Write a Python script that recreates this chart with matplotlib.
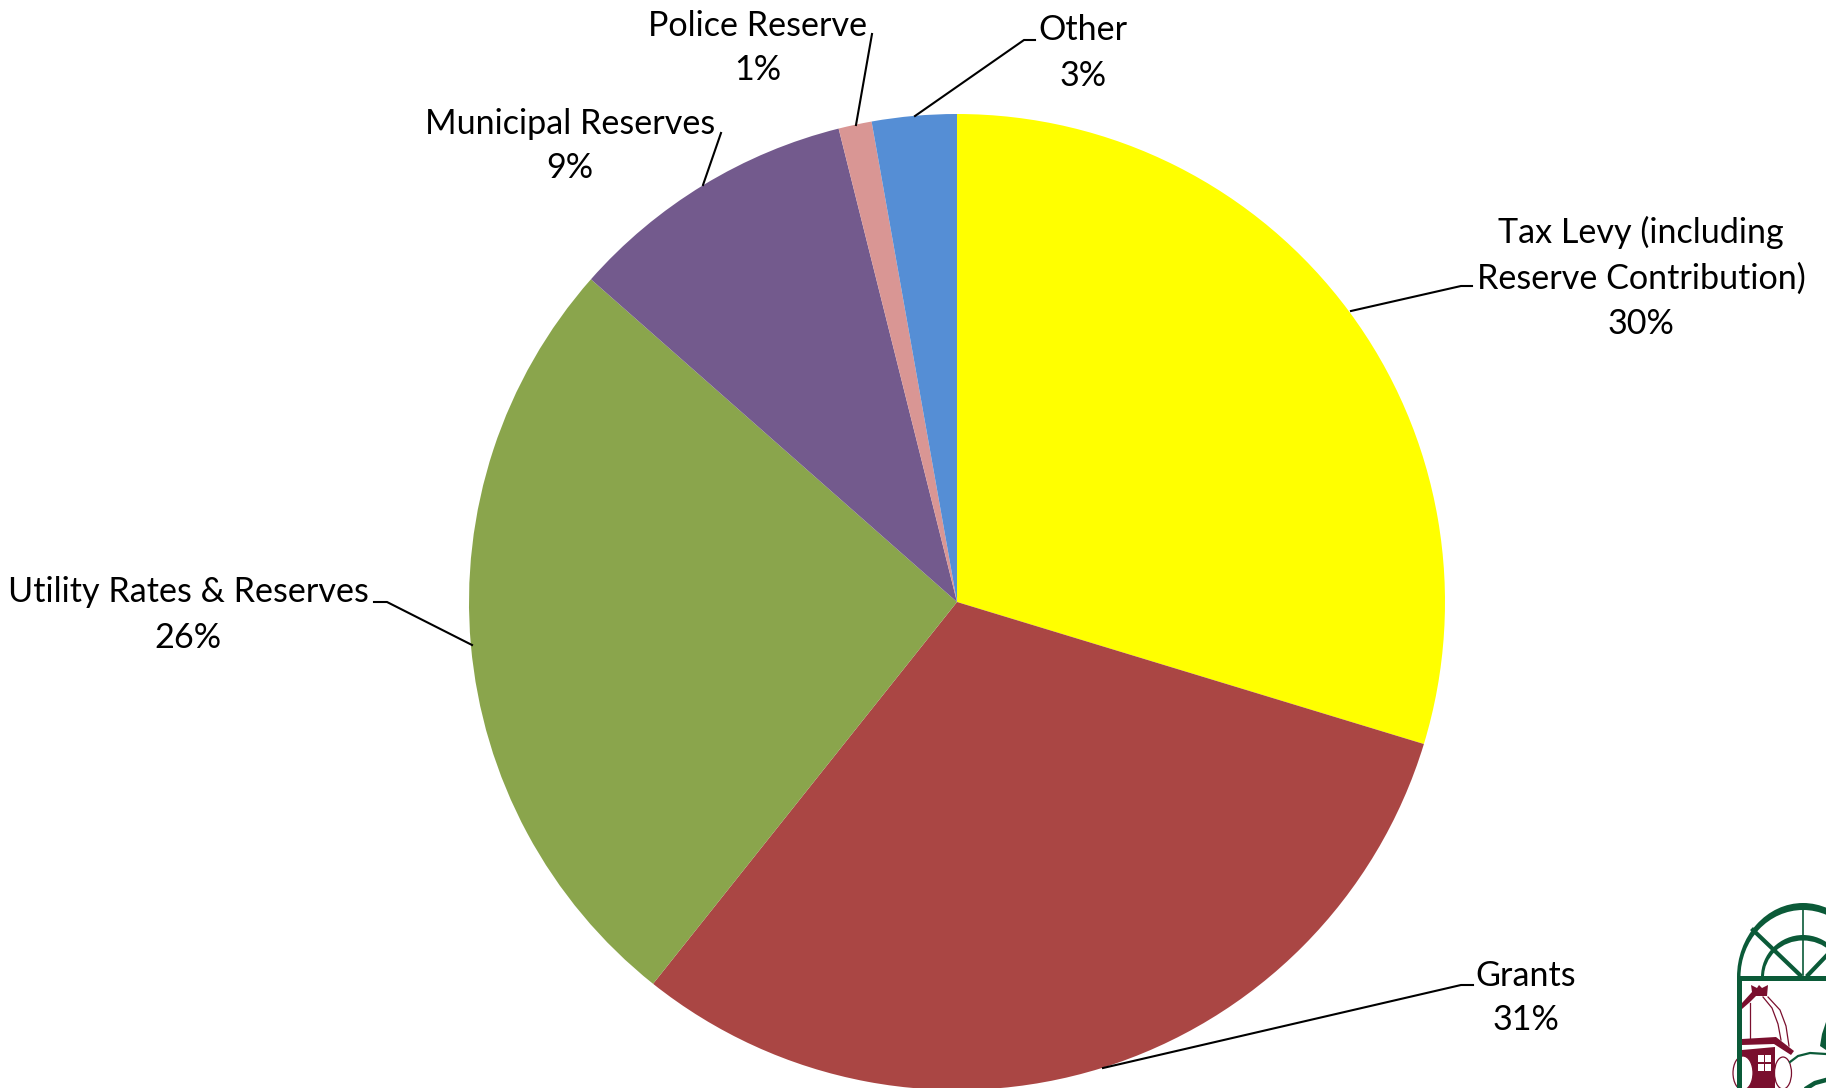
import matplotlib
matplotlib.use('Agg')
import matplotlib.pyplot as plt
from matplotlib.patches import Polygon, Rectangle, Ellipse

W, H = 1826, 1088

categories = ['Tax Levy (including\nReserve Contribution)', 'Grants', 'Utility Rates & Reserves',
              'Municipal Reserves', 'Police Reserve', 'Other']
shares = [29.7, 31.0, 25.8, 9.6, 1.1, 2.8]
pct_labels = ['30%', '31%', '26%', '9%', '1%', '3%']
colors = ['#FFFF00', '#AA4644', '#8AA54C', '#735A8D', '#D99694', '#558ED5']

GREEN = '#0B5A38'
MAROON = '#7A0F2E'


def fy(y):
    # pixel position from the top -> axes y
    return H - y


def px(points):
    return [(x, fy(y)) for x, y in points]


fig = plt.figure(figsize=(W / 100, H / 100), dpi=100)
ax = fig.add_axes([0, 0, 1, 1])
ax.pie(shares, colors=colors, startangle=90, counterclock=False,
       center=(957, fy(602)), radius=488, frame=True)
ax.set_xlim(0, W)
ax.set_ylim(0, H)
ax.set_aspect('equal')
ax.axis('off')

# label centres and leader lines, in pixels of the picture
label_pos = [(1641, 278), (1526, 998), (188, 615), (570, 146), (758, 48), (1083, 53)]
leaders = [
    [(1351, 311), (1461, 286), (1472, 286)],
    [(1103, 1068), (1461, 985), (1473, 985)],
    [(472, 645), (387, 602), (374, 602)],
    [(703, 185), (721, 133)],
    [(856, 125), (872, 34)],
    [(915, 116), (1024, 40), (1035, 40)],
]

for name, pct, pos, line in zip(categories, pct_labels, label_pos, leaders):
    ax.text(pos[0], fy(pos[1]), name + '\n' + pct, ha='center', va='center',
            fontsize=24.6, family='Lato', color='black', linespacing=1.5)
    ax.plot([p[0] for p in line], [fy(p[1]) for p in line], color='black', lw=1.5,
            solid_joinstyle='miter')

# logo in the bottom right corner, cut by the edge of the picture
# arches are filled ellipses, thicker at the top than at the sides
ax.add_patch(Ellipse((1803, fy(977)), 132, 148, color=GREEN, lw=0))
ax.add_patch(Ellipse((1803, fy(977)), 125, 134, color='white', lw=0))
ax.add_patch(Ellipse((1803, fy(977)), 84, 84, color=GREEN, lw=0))
ax.add_patch(Ellipse((1803, fy(977)), 78, 73, color='white', lw=0))
ax.add_patch(Rectangle((1730, 0), 100, fy(977), color='white', lw=0))
ax.add_patch(Rectangle((1737, fy(981)), 95, 5, color=GREEN, lw=0))
ax.plot([1803, 1803], [fy(908), fy(975)], color=GREEN, lw=1.2)
ax.plot([1753, 1800], [fy(930), fy(975)], color=GREEN, lw=3)
ax.plot([1808, 1830], [fy(975), fy(952)], color=GREEN, lw=3)

# dome, clock tower
ax.add_patch(Polygon(px([(1742, 1003), (1752, 992), (1751, 985), (1757, 988), (1759, 985), (1762, 988),
                         (1768, 985), (1767, 996), (1756, 996), (1750, 1002), (1742, 1009)]),
                     color=MAROON, lw=0))
ax.plot([1750, 1750], [fy(1003), fy(1038)], color=MAROON, lw=0.9)
ax.plot([1763, 1772, 1778, 1781], [fy(997), fy(1008), fy(1024), fy(1040)], color=MAROON, lw=0.9)
ax.plot([1768, 1780, 1786, 1789], [fy(997), fy(1010), fy(1026), fy(1046)], color=MAROON, lw=0.9)
ax.add_patch(Polygon(px([(1742, 1039), (1776, 1037), (1794, 1051), (1791, 1055), (1774, 1044), (1742, 1045)]),
                     color=MAROON, lw=0))
ax.add_patch(Polygon(px([(1742, 1050), (1775, 1047), (1775, 1088), (1742, 1088)]), color=MAROON, lw=0))
for x0, y0 in [(1758, 1055), (1765, 1055), (1758, 1064), (1765, 1064)]:
    ax.add_patch(Rectangle((x0, fy(y0 + 7)), 5.5, 7, color='white', lw=0))
ax.add_patch(Ellipse((1743, fy(1073)), 20, 34, facecolor='white', edgecolor=MAROON, lw=0.9))
ax.add_patch(Ellipse((1783, fy(1073)), 17, 32, facecolor='white', edgecolor=MAROON, lw=0.9))
ax.add_patch(Rectangle((1737, 0), 5, fy(977), color=GREEN, lw=0))

# tree and hills on the right
ax.add_patch(Polygon(px([(1826, 1022), (1822, 1034), (1820, 1046), (1826, 1050)]), color=GREEN, lw=0))
ax.plot([1790, 1798, 1810, 1826], [fy(1062), fy(1056), fy(1053), fy(1054)], color=GREEN, lw=1.6)
ax.plot([1807, 1815, 1826], [fy(1088), fy(1083), fy(1080)], color=GREEN, lw=3.2)

fig.savefig('out.png', dpi=100, facecolor='white')
